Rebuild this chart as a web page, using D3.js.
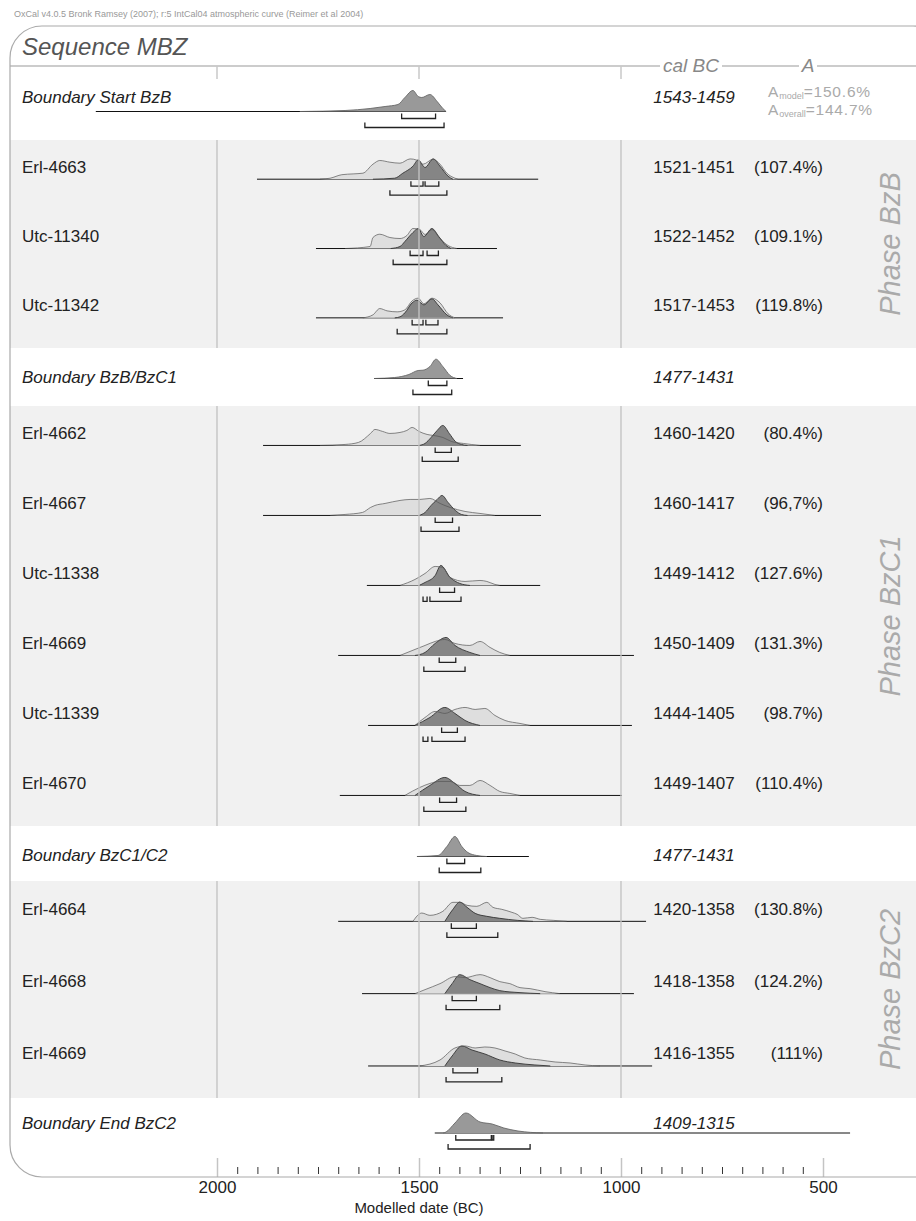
<!DOCTYPE html>
<html><head><meta charset="utf-8">
<script src="https://cdn.jsdelivr.net/npm/d3@7/dist/d3.min.js"></script>
<style>
html,body{margin:0;padding:0;background:#fff;}
svg text{font-family:"Liberation Sans",Arial,sans-serif;}
</style></head>
<body><svg id="c" width="916" height="1221"></svg>
<script>
// ---------------- data ----------------
const headerNote = "OxCal v4.0.5 Bronk Ramsey (2007); r:5 IntCal04 atmospheric curve (Reimer et al 2004)";
const sequenceName = "Sequence MBZ";
const labels = ["Boundary Start BzB","Erl-4663","Utc-11340","Utc-11342","Boundary BzB/BzC1",
  "Erl-4662","Erl-4667","Utc-11338","Erl-4669","Utc-11339","Erl-4670","Boundary BzC1/C2",
  "Erl-4664","Erl-4668","Erl-4669","Boundary End BzC2"];
const kinds = ["boundary","date","date","date","boundary","date","date","date","date","date","date",
  "boundary","date","date","date","boundary"];
const calRanges = ["1543-1459","1521-1451","1522-1452","1517-1453","1477-1431","1460-1420","1460-1417",
  "1449-1412","1450-1409","1444-1405","1449-1407","1477-1431","1420-1358","1418-1358","1416-1355","1409-1315"];
const agreements = ["","(107.4%)","(109.1%)","(119.8%)","","(80.4%)","(96,7%)","(127.6%)","(131.3%)",
  "(98.7%)","(110.4%)","","(130.8%)","(124.2%)","(111%)",""];
const modelAgreement = ["150.6%","144.7%"];
const phaseNames = ["BzB","BzC1","BzC2"];
const phaseRows = [[1,3],[5,10],[12,14]];
const axisTicks = [2000,1500,1000,500];
const minorTicks = [1950,1900,1850,1800,1750,1700,1650,1600,1550,1450,1400,1350,1300,1250,1200,1150,1100,1050,
  950,900,850,800,750,700,650,600,550];
const spans = [[2300,1433],[1901,1205],[1755,1307],[1755,1292],[1611,1391],[1886,1248],[1886,1198],
  [1629,1200],[1700,968],[1626,973],[1696,998],[1505,1228],[1700,938],[1641,968],[1626,923],[1461,433]];
const priors = [
  null,
  [[1745,0],[1720,1],[1691,4.5],[1663,5.3],[1639,6],[1614,15],[1597,18.7],[1572,17],[1547,16],[1522,20.3],[1505,19],[1490,15],[1465,20],[1448,15],[1431,6],[1411,1],[1404,0]],
  [[1683,0],[1621,2],[1614,11],[1597,14.3],[1572,11],[1547,10],[1530,13],[1515,20],[1498,19],[1485,14],[1468,19],[1448,10],[1428,3],[1406,0]],
  [[1639,0],[1614,3],[1597,9.3],[1579,7],[1554,6],[1535,8],[1517,17],[1502,19.7],[1488,14],[1468,19.7],[1448,15],[1428,4],[1411,0]],
  null,
  [[1745,0],[1683,1],[1650,3],[1620,12],[1609,16],[1590,14],[1572,12],[1547,13],[1530,15],[1517,18],[1500,14],[1480,11],[1465,10],[1441,8],[1420,4],[1390,2],[1349,0]],
  [[1720,0],[1683,1],[1640,3],[1620,8],[1609,10],[1584,12],[1547,15],[1522,16],[1498,16],[1473,17],[1448,12],[1423,8],[1386,4],[1349,2],[1312,0]],
  [[1547,0],[1510,6],[1485,12],[1460,19],[1441,18],[1423,8],[1386,4],[1349,5],[1332,4],[1312,1],[1300,0]],
  [[1547,0],[1510,6],[1485,10],[1460,14],[1436,16],[1411,12],[1374,10],[1349,14],[1324,8],[1300,3],[1275,0]],
  [[1510,0],[1485,8],[1460,14],[1436,12],[1411,16],[1386,18],[1361,16],[1337,17],[1312,10],[1287,5],[1250,2],[1225,0]],
  [[1535,0],[1498,8],[1473,12],[1448,14],[1423,14],[1399,10],[1374,10],[1349,15],[1324,10],[1300,4],[1275,2],[1250,0]],
  null,
  [[1515,0],[1493,8.3],[1473,6],[1441,10],[1416,19],[1399,19],[1381,16],[1357,15],[1332,19],[1317,14],[1295,12],[1270,9],[1257,7],[1243,3],[1220,4],[1200,2],[1168,1],[1134,0]],
  [[1510,0],[1485,4],[1448,10],[1411,17],[1386,16],[1349,19],[1324,16],[1300,12],[1275,10],[1250,6],[1225,5],[1188,2],[1151,0]],
  [[1498,0],[1448,6],[1411,18],[1386,20],[1361,18],[1337,19],[1312,18],[1287,15],[1262,12],[1238,8],[1200,6],[1163,4],[1126,3],[1089,1],[1052,0]],
  null
];
const posteriors = [
  [[1795,0],[1683,1],[1621,3],[1584,5],[1552,7],[1535,14],[1515,21],[1502,15],[1493,14],[1473,17],[1455,10],[1441,3],[1433,0]],
  [[1614,0],[1560,1],[1540,6],[1515,13],[1502,19.3],[1485,11.7],[1465,20.3],[1448,13],[1428,3],[1416,0]],
  [[1570,0],[1547,2],[1535,7],[1515,16],[1502,20],[1488,12],[1468,20],[1451,12],[1433,3],[1421,0]],
  [[1560,0],[1547,1],[1535,5],[1517,15],[1505,17.7],[1488,13],[1468,19],[1453,13],[1431,3],[1416,0]],
  [[1611,0],[1560,1],[1525,4],[1502,8],[1490,8.3],[1473,12],[1458,19.3],[1441,12],[1423,3],[1406,0]],
  [[1500,0],[1485,2],[1470,8],[1455,15],[1441,20],[1425,12],[1410,4],[1395,1],[1380,0]],
  [[1500,0],[1485,3],[1470,10],[1455,16],[1443,20],[1428,13],[1410,5],[1395,1],[1380,0]],
  [[1500,0],[1485,3],[1460,10],[1446,20],[1423,8],[1399,2],[1374,0]],
  [[1510,0],[1485,3],[1460,12],[1433,18],[1411,10],[1374,3],[1349,0]],
  [[1510,0],[1473,8],[1436,18],[1411,12],[1386,5],[1349,0]],
  [[1510,0],[1473,10],[1436,18],[1411,12],[1386,4],[1349,0]],
  [[1505,0],[1453,1],[1431,10],[1411,20],[1394,10],[1379,4],[1357,1],[1332,0]],
  [[1436,0],[1416,12],[1399,19.3],[1381,14],[1361,8],[1332,5],[1300,3],[1257,1],[1218,0]],
  [[1436,0],[1418,10],[1399,19],[1374,14],[1349,10],[1324,6],[1300,3],[1250,1],[1200,0]],
  [[1436,0],[1418,10],[1394,20],[1369,16],[1337,12],[1300,6],[1262,3],[1213,1],[1175,0]],
  [[1440,0],[1433,1],[1411,10],[1384,20],[1349,11],[1319,9],[1290,5],[1255,2],[1193,0]]
];
const hpd68 = [
  [[1543,1459]],[[1520,1490],[1485,1451]],[[1522,1490],[1480,1452]],[[1517,1490],[1483,1453]],[[1477,1431]],
  [[1460,1420]],[[1460,1417]],[[1449,1412]],[[1450,1409]],[[1444,1405]],[[1449,1407]],[[1431,1387]],
  [[1420,1358]],[[1418,1358]],[[1416,1355]],[[1409,1321],[1319,1315]]
];
const hpd95 = [
  [[1634,1438]],[[1572,1431]],[[1564,1431]],[[1554,1431]],[[1515,1419]],
  [[1492,1403]],[[1495,1401]],[[1490,1480],[1473,1396]],[[1488,1386]],[[1490,1478],[1468,1386]],[[1488,1384]],[[1450,1347]],
  [[1431,1305]],[[1433,1300]],[[1433,1295]],[[1428,1225]]
];

// ---------------- layout ----------------
const W = 916, H = 1221;
const svg = d3.select("#c");
const x = d3.scaleLinear().domain([2000, 500]).range([217, 823]);
const hy = d3.scaleLinear().domain([0, 20]).range([0, 20]);
const panel = {x: 10, y: 26, w: 935, h: 1151, r: 32};
const headerY = 66;
const rowH = [74, 69.33, 69.33, 69.34, 58, 70, 70, 70, 70, 70, 70, 55, 72.3, 72.3, 72.4, 60];
const rowTop = []; { let t = headerY; rowH.forEach(h => { rowTop.push(t); t += h; }); }
const labelOff = kinds.map((k, i) => i === 0 ? 31 : (i === 15 ? 25 : (k === "boundary" ? 29 : rowH[i] * 0.385)));
const baseOff = kinds.map((k, i) => i === 0 ? 45.5 : (i === 15 ? 35 : (k === "boundary" ? 30.5 : labelOff[i] + 12.5)));

const textCol = "#222";
const FS = 17;
const defs = svg.append("defs");
defs.append("clipPath").attr("id", "pclip").append("rect")
  .attr("x", panel.x).attr("y", panel.y).attr("width", panel.w).attr("height", panel.h)
  .attr("rx", panel.r).attr("ry", panel.r);

svg.append("text").attr("x", 14).attr("y", 17).attr("font-size", 9).attr("fill", "#999").text(headerNote);

const g = svg.append("g").attr("clip-path", "url(#pclip)");
phaseRows.forEach(([a, b]) => {
  const y0 = rowTop[a], y1 = rowTop[b] + rowH[b];
  g.append("rect").attr("x", panel.x).attr("y", y0).attr("width", W).attr("height", y1 - y0).attr("fill", "#f1f1f1");
});
g.append("line").attr("x1", panel.x).attr("x2", 660).attr("y1", headerY).attr("y2", headerY).attr("stroke", "#999");
g.append("line").attr("x1", 722).attr("x2", 799).attr("y1", headerY).attr("y2", headerY).attr("stroke", "#999");
g.append("line").attr("x1", 817).attr("x2", W + 40).attr("y1", headerY).attr("y2", headerY).attr("stroke", "#999");
svg.append("text").attr("x", 691).attr("y", headerY + 6).attr("text-anchor", "middle").attr("font-style", "italic")
  .attr("font-size", 19).attr("fill", "#888").text("cal BC");
svg.append("text").attr("x", 808).attr("y", headerY + 6).attr("text-anchor", "middle").attr("font-style", "italic")
  .attr("font-size", 19).attr("fill", "#888").text("A");
axisTicks.slice(0, 3).forEach(v => {
  g.append("line").attr("x1", x(v)).attr("x2", x(v)).attr("y1", headerY).attr("y2", headerY + 13)
    .attr("stroke", "#c8c8c8").attr("stroke-width", 1.5);
});

svg.append("text").attr("x", 22).attr("y", 55).attr("font-size", 24).attr("font-style", "italic")
  .attr("fill", "#555").text(sequenceName);

const area = d3.area().x(d => x(d[0])).curve(d3.curveMonotoneX);
const lineGen = d3.line().x(d => x(d[0])).curve(d3.curveMonotoneX);
labels.forEach((lab, i) => {
  const by = rowTop[i] + baseOff[i];
  const ly = rowTop[i] + labelOff[i];
  const rg = g.append("g");
  rg.append("line").attr("x1", x(spans[i][0])).attr("x2", x(spans[i][1])).attr("y1", by).attr("y2", by)
    .attr("stroke", "#111").attr("stroke-width", 1);
  area.y0(by).y1(d => by - hy(d[1]));
  lineGen.y(d => by - hy(d[1]));
  if (priors[i]) rg.append("path").attr("d", area(priors[i])).attr("fill", "#dedede");
  const isB = kinds[i] === "boundary";
  rg.append("path").attr("d", area(posteriors[i])).attr("fill", isB ? "#999" : "#858585");
  rg.append("path").attr("d", lineGen(posteriors[i])).attr("fill", "none").attr("stroke", isB ? "#666" : "#333").attr("stroke-width", 0.9);
  if (priors[i]) rg.append("path").attr("d", lineGen(priors[i])).attr("fill", "none").attr("stroke", "#555").attr("stroke-width", 0.7);
  const bracket = (ranges, yy) => ranges.forEach(([a, b]) => {
    rg.append("path").attr("d", `M${x(a)},${yy - 5}V${yy}H${x(b)}V${yy - 5}`)
      .attr("fill", "none").attr("stroke", "#222").attr("stroke-width", 1.3);
  });
  bracket(hpd68[i], by + 7);
  bracket(hpd95[i], by + 16);
  svg.append("text").attr("x", 22).attr("y", ly).attr("dy", "0.35em").attr("font-size", FS)
    .attr("font-style", isB ? "italic" : "normal").attr("fill", textCol).text(lab);
  svg.append("text").attr("x", 694).attr("y", ly).attr("dy", "0.35em").attr("font-size", FS).attr("text-anchor", "middle")
    .attr("font-style", isB ? "italic" : "normal").attr("fill", textCol).text(calRanges[i]);
  if (agreements[i]) {
    svg.append("text").attr("x", 823).attr("y", ly).attr("dy", "0.35em").attr("font-size", FS).attr("text-anchor", "end")
      .attr("fill", textCol).text(agreements[i]);
  }
});

phaseRows.forEach(([a, b]) => {
  const y0 = rowTop[a], y1 = rowTop[b] + rowH[b];
  axisTicks.slice(0, 3).forEach(v => {
    g.append("line").attr("x1", x(v)).attr("x2", x(v)).attr("y1", y0).attr("y2", y1)
      .attr("stroke", "#c4c4c4").attr("stroke-width", 1.6).attr("opacity", 0.85);
  });
});

[["model", modelAgreement[0], 92], ["overall", modelAgreement[1], 110]].forEach(([sub, val, yy]) => {
  const t = svg.append("text").attr("x", 768).attr("y", yy).attr("dy", "0.35em").attr("font-size", 15.5)
    .attr("letter-spacing", 0.8).attr("fill", "#aaa");
  t.append("tspan").text("A");
  t.append("tspan").attr("font-size", 9).attr("letter-spacing", 0).attr("dy", "0.2em").text(sub);
  t.append("tspan").attr("dy", "-0.12em").text("=" + val);
});

phaseRows.forEach(([a, b], k) => {
  const cy = (rowTop[a] + rowTop[b] + rowH[b]) / 2;
  svg.append("text").attr("transform", `translate(900,${cy}) rotate(-90)`).attr("text-anchor", "middle")
    .attr("font-size", 29).attr("font-style", "italic").attr("fill", "#aaa").text("Phase " + phaseNames[k]);
});

const axisY = panel.y + panel.h;
const majAx = svg.append("g").attr("transform", `translate(0,${axisY})`)
  .call(d3.axisTop(x).tickValues(axisTicks).tickSize(19).tickFormat(""));
majAx.select(".domain").remove();
majAx.selectAll("line").attr("stroke", "#c4c4c4").attr("stroke-width", 1.5);
const minAx = svg.append("g").attr("transform", `translate(0,${axisY - 3})`)
  .call(d3.axisTop(x).tickValues(minorTicks).tickSize(7).tickFormat(""));
minAx.select(".domain").remove();
minAx.selectAll("line").attr("stroke", "#333");
const labAx = svg.append("g").attr("transform", `translate(0,${axisY})`)
  .call(d3.axisBottom(x).tickValues(axisTicks).tickSize(0).tickPadding(4).tickFormat(d3.format("d")));
labAx.select(".domain").remove();
labAx.selectAll("text").attr("font-size", 17).attr("fill", "#222").attr("font-family", "Liberation Sans, Arial, sans-serif");
svg.append("text").attr("x", x(1500)).attr("y", 1213).attr("text-anchor", "middle").attr("font-size", 15)
  .attr("fill", "#222").text("Modelled date (BC)");

svg.append("rect").attr("x", panel.x).attr("y", panel.y).attr("width", panel.w).attr("height", panel.h)
  .attr("rx", panel.r).attr("ry", panel.r).attr("fill", "none").attr("stroke", "#aaa").attr("stroke-width", 1.2);
</script></body></html>
